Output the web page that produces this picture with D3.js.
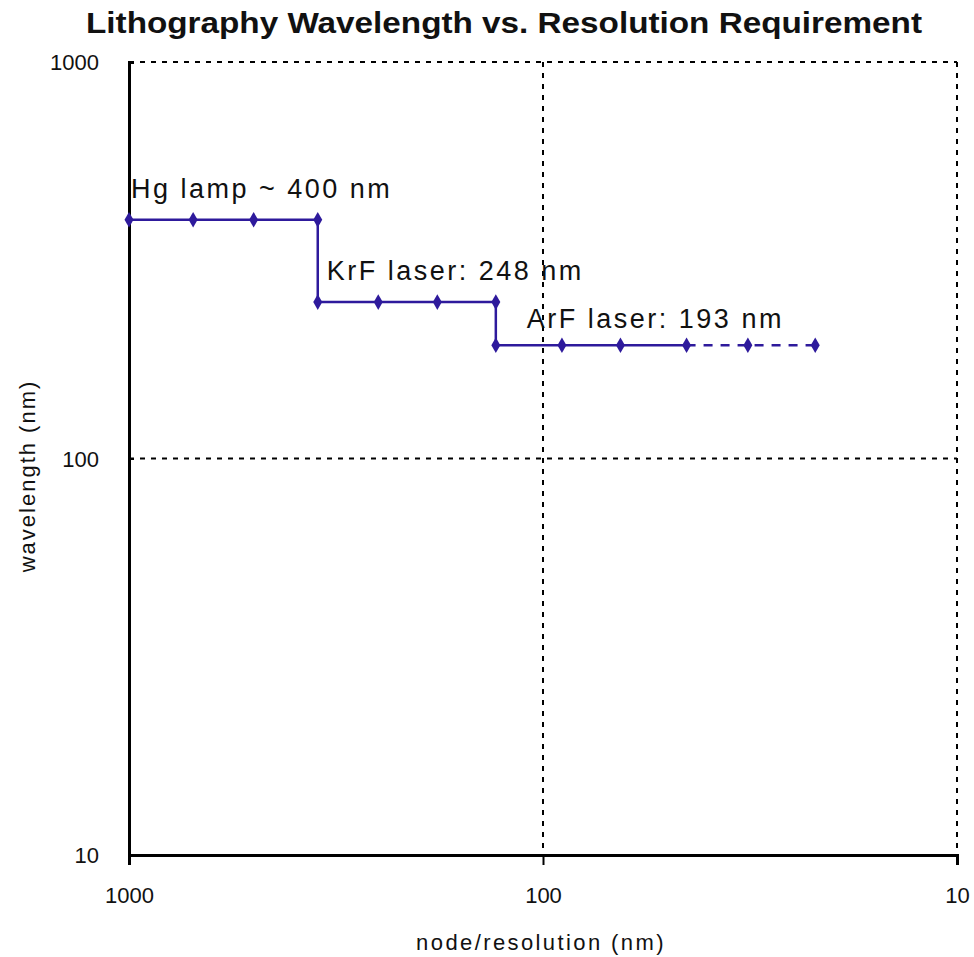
<!DOCTYPE html>
<html>
<head>
<meta charset="utf-8">
<script src="https://cdn.jsdelivr.net/npm/d3@7"></script>
<style>
  body { margin: 0; background: #fff; }
  text { font-family: "Liberation Sans", Arial, sans-serif; fill: #111; }
</style>
</head>
<body>
<script>
// --- data ---
const hgNodes = [1000, 700, 500, 350];
const hgWave = 400;
const krfNodes = [350, 250, 180, 130];
const krfWave = 248;
const arfNodes = [130, 90, 65, 45];
const arfWave = 193;
const arfFutureNodes = [45, 32, 22];
const xTicks = [1000, 100, 10];
const yTicks = [10, 100, 1000];
const labels = [
  {text: "Hg lamp ~ 400 nm", node: 1000, wave: 400},
  {text: "KrF laser: 248 nm", node: 350, wave: 248},
  {text: "ArF laser: 193 nm", node: 130, wave: 193}
];
// label offsets from their anchor point (px)
const labelDx = [2, 9, 31];
const labelDy = [-22, -22, -17];

const W = 974, H = 957;
const margin = {top: 62, right: 17, bottom: 102, left: 129};
const width = W - margin.left - margin.right,
      height = H - margin.top - margin.bottom;

const svg = d3.select("body").append("svg")
  .attr("width", W).attr("height", H);

const g = svg.append("g")
  .attr("transform", `translate(${margin.left},${margin.top})`);

const x = d3.scaleLog().domain([1000, 10]).range([0, width]);
const y = d3.scaleLog().domain([10, 1000]).range([height, 0]);

const col = "#2e1a9c";

// grid (dashed)
const dash = "5,6";
g.selectAll(".vgrid").data(xTicks.filter(d => d !== 1000))
  .enter().append("line")
  .attr("x1", d => x(d)).attr("x2", d => x(d))
  .attr("y1", 0).attr("y2", height)
  .attr("stroke", "#000").attr("stroke-width", 2)
  .attr("stroke-dasharray", dash);
g.selectAll(".hgrid").data(yTicks.filter(d => d !== 10))
  .enter().append("line")
  .attr("x1", 0).attr("x2", width)
  .attr("y1", d => y(d)).attr("y2", d => y(d))
  .attr("stroke", "#000").attr("stroke-width", 2)
  .attr("stroke-dasharray", dash);

// axes
const xAxis = g.append("g")
  .attr("transform", `translate(0,${height})`)
  .call(d3.axisBottom(x).tickValues(xTicks).tickFormat(d3.format("d")).tickSize(10).tickPadding(22));
const yAxis = g.append("g")
  .call(d3.axisLeft(y).tickValues(yTicks).tickFormat(d3.format("d")).tickSize(-5).tickPadding(30));
[xAxis, yAxis].forEach(a => {
  a.select(".domain").attr("stroke", "#000").attr("stroke-width", 3);
  a.selectAll(".tick line").attr("stroke", "#000").attr("stroke-width", 2);
  a.selectAll(".tick text")
    .style("font-family", "'Liberation Sans Narrow', 'Liberation Sans', Arial, sans-serif")
    .style("font-size", "22px").attr("fill", "#111");
});
yAxis.selectAll(".tick text").attr("dy", "0.35em");

// step line
const line = d3.line().x(d => x(d[0])).y(d => y(d[1]));
const solidPts = [
  ...hgNodes.map(n => [n, hgWave]),
  ...krfNodes.map(n => [n, krfWave]),
  ...arfNodes.map(n => [n, arfWave])
];
g.append("path").datum(solidPts)
  .attr("d", line).attr("fill", "none")
  .attr("stroke", col).attr("stroke-width", 2.5);
g.append("path").datum(arfFutureNodes.map(n => [n, arfWave]))
  .attr("d", line).attr("fill", "none")
  .attr("stroke", col).attr("stroke-width", 2.5)
  .attr("stroke-dasharray", "9,8");

// markers
const markPts = [...solidPts, ...arfFutureNodes.slice(1).map(n => [n, arfWave])];
g.selectAll(".mk").data(markPts).enter().append("path")
  .attr("transform", d => `translate(${x(d[0])},${y(d[1])})`)
  .attr("d", d3.symbol(d3.symbolDiamond, 70))
  .attr("fill", col);

// annotations
g.selectAll(".lbl").data(labels).enter().append("text")
  .attr("x", (d, i) => x(d.node) + labelDx[i])
  .attr("y", (d, i) => y(d.wave) + labelDy[i])
  .style("font-size", "27px")
  .style("letter-spacing", "2.5px")
  .text(d => d.text);

// title
svg.append("text")
  .attr("x", 504).attr("y", 33)
  .attr("text-anchor", "middle")
  .attr("textLength", 836).attr("lengthAdjust", "spacingAndGlyphs")
  .style("font-weight", "bold").style("font-size", "29px")
  .text("Lithography Wavelength vs. Resolution Requirement");

// axis titles
svg.append("text")
  .attr("x", 541).attr("y", 950)
  .attr("text-anchor", "middle")
  .style("font-size", "22px").style("letter-spacing", "2.4px")
  .text("node/resolution (nm)");
svg.append("text")
  .attr("transform", `translate(35,476) rotate(-90)`)
  .attr("text-anchor", "middle")
  .style("font-size", "22px").style("letter-spacing", "2px")
  .text("wavelength (nm)");
</script>
</body>
</html>
